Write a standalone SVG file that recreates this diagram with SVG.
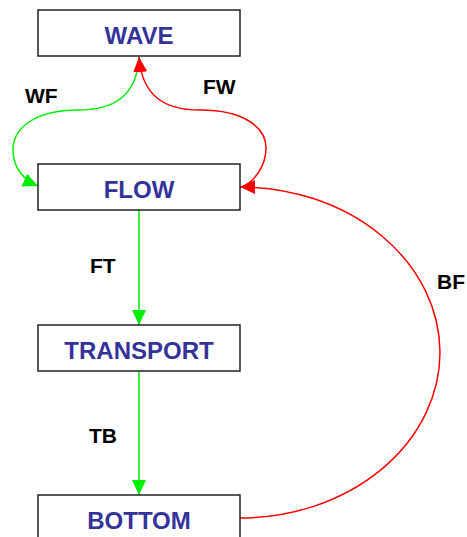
<svg xmlns="http://www.w3.org/2000/svg" width="467" height="537" viewBox="0 0 467 537">
  <style>
    .box { fill: #ffffff; stroke: #222222; stroke-width: 1.5; }
    .name { font-family: "Liberation Sans", Arial, sans-serif; font-weight: bold; font-size: 24px; fill: #333399; text-anchor: middle; }
    .lbl { font-family: "Liberation Sans", Arial, sans-serif; font-weight: bold; font-size: 21px; fill: #000000; }
    .g { fill: none; stroke: #00ee00; stroke-width: 1.5; }
    .r { fill: none; stroke: #ff0000; stroke-width: 1.5; }
  </style>
  <defs>
    <marker id="ah-green" markerUnits="userSpaceOnUse" markerWidth="15" markerHeight="14" refX="15" refY="7" orient="auto">
      <path d="M0,0 L15,7 L0,14 z" fill="#00ee00"/>
    </marker>
    <marker id="ah-red" markerUnits="userSpaceOnUse" markerWidth="15" markerHeight="14" refX="15" refY="7" orient="auto">
      <path d="M0,0 L15,7 L0,14 z" fill="#ff0000"/>
    </marker>
  </defs>

  <g id="connectors">
    <path id="wf" class="g" d="M139,57 C137,95 115,110 78,110 C35,110 13,128 13,150 C13,168 24,180 38,186" marker-end="url(#ah-green)"/>
    <path id="fw" class="r" d="M241,187 C255,182 266,165 266,148 C266,128 245,110 200,110 C163,110 142,95 139,57" marker-end="url(#ah-red)"/>
    <path id="ft" class="g" d="M139,210 L139,325" marker-end="url(#ah-green)"/>
    <path id="tb" class="g" d="M139,371 L139,495" marker-end="url(#ah-green)"/>
    <path id="bf" class="r" d="M240,518 A200,166 0 0 0 440,352 A200,166 0 0 0 240,187" marker-end="url(#ah-red)"/>
    <text class="lbl" x="25" y="103">WF</text>
    <text class="lbl" x="203" y="94">FW</text>
    <text class="lbl" x="90" y="273">FT</text>
    <text class="lbl" x="89" y="443">TB</text>
    <text class="lbl" x="437" y="289">BF</text>
  </g>

  <g id="node-wave">
    <rect class="box" x="38" y="10" width="202" height="46"/>
    <text class="name" x="139" y="44">WAVE</text>
  </g>
  <g id="node-flow">
    <rect class="box" x="38" y="164" width="202" height="46"/>
    <text class="name" x="139" y="198">FLOW</text>
  </g>
  <g id="node-transport">
    <rect class="box" x="38" y="325" width="202" height="46"/>
    <text class="name" x="139" y="359">TRANSPORT</text>
  </g>
  <g id="node-bottom">
    <rect class="box" x="38" y="495" width="202" height="46"/>
    <text class="name" x="139" y="529">BOTTOM</text>
  </g>
</svg>
